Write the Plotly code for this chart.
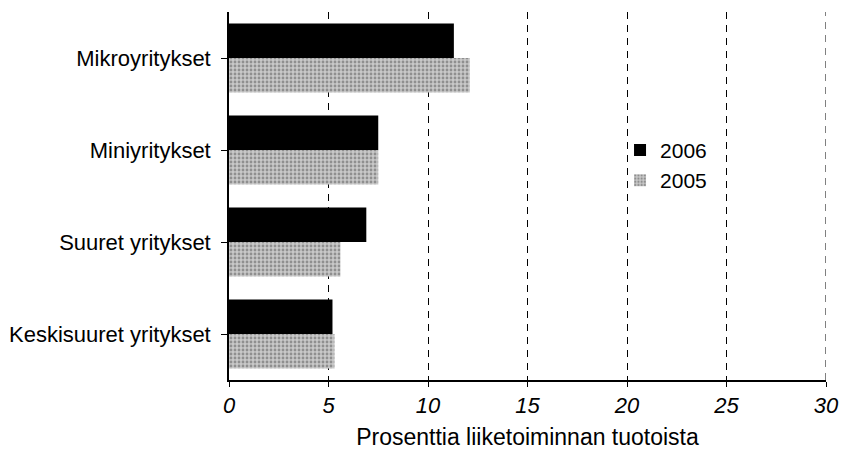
import plotly.graph_objects as go

categories = ["Keskisuuret yritykset", "Suuret yritykset", "Miniyritykset", "Mikroyritykset"]
values_2006 = [5.2, 6.9, 7.5, 11.3]
values_2005 = [5.3, 5.6, 7.5, 12.1]
x_ticks = [0, 5, 10, 15, 20, 25, 30]

fig = go.Figure()
fig.add_trace(go.Bar(
    y=categories, x=values_2005, orientation="h", name="2005",
    marker=dict(color="#bdbdbd", line=dict(width=0),
                pattern=dict(shape=".", fgcolor="#555555", bgcolor="#c8c8c8", size=4, solidity=0.4)),
))
fig.add_trace(go.Bar(
    y=categories, x=values_2006, orientation="h", name="2006",
    marker=dict(color="#000000", line=dict(width=0)),
))

# dashed gridline at the last tick (plot edge), which Plotly does not draw itself
fig.add_vline(x=x_ticks[-1], line=dict(color="black", width=1, dash="7px,6px"))

fig.update_layout(
    width=841, height=455,
    margin=dict(l=229, r=15, t=12, b=75, autoexpand=False),
    paper_bgcolor="white", plot_bgcolor="white",
    barmode="group", bargap=0.25, bargroupgap=0,
    font=dict(family="Liberation Sans, Arial, sans-serif", size=21, color="black"),
    showlegend=True,
    legend=dict(x=0.655, y=0.68, xanchor="left", yanchor="top", traceorder="reversed",
                bgcolor="rgba(0,0,0,0)", font=dict(size=21), itemsizing="constant",
                tracegroupgap=0, itemwidth=30),
    xaxis=dict(range=[0, 30], tickvals=x_ticks, ticktext=[f"<i>{t}</i>" for t in x_ticks],
               tickfont=dict(size=22), automargin=False,
               showgrid=True, gridcolor="black", griddash="7px,6px", gridwidth=1,
               showline=True, linecolor="black", linewidth=1.5,
               ticks="outside", ticklen=5, tickcolor="black",
               zeroline=False,
               title=dict(text="Prosenttia liiketoiminnan tuotoista", standoff=12, font=dict(size=23))),
    yaxis=dict(showline=True, linecolor="black", linewidth=1.5, automargin=False,
               ticks="outside", ticklen=6, tickcolor="black",
               showgrid=False, ticksuffix=" ", tickfont=dict(size=22)),
)

fig.write_html(
    "out.html",
    config={"displayModeBar": False},
    post_script="document.body.style.margin='0';document.documentElement.style.overflow='hidden';",
)
